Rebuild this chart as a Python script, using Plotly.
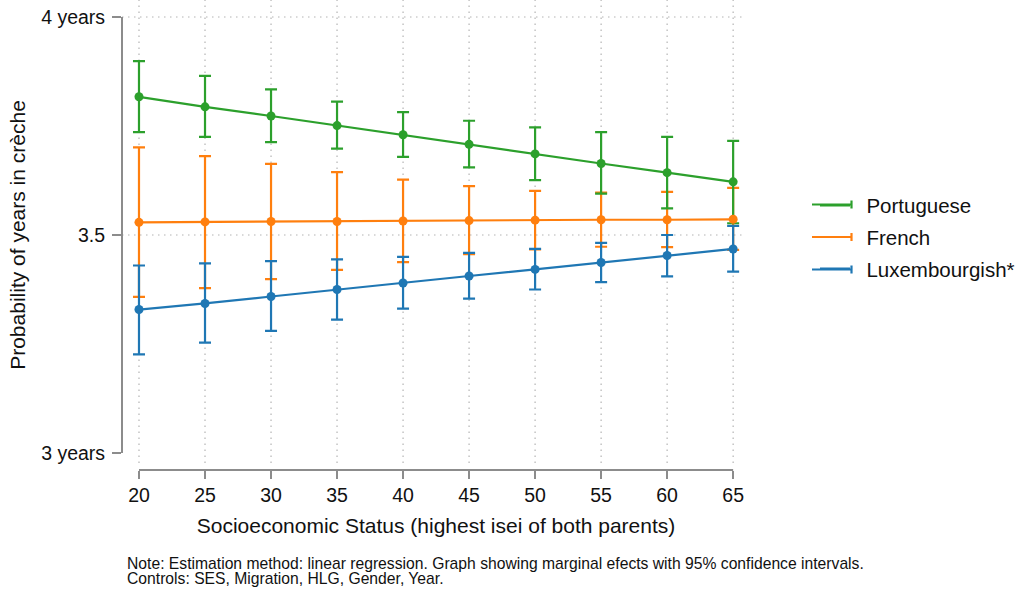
import plotly.graph_objects as go

# ---- data ----
ses = [20, 25, 30, 35, 40, 45, 50, 55, 60, 65]

port_mean = [3.817, 3.794, 3.773, 3.751, 3.730, 3.708, 3.686, 3.664, 3.643, 3.622]
port_lo   = [3.736, 3.725, 3.713, 3.698, 3.679, 3.655, 3.626, 3.595, 3.561, 3.527]
port_hi   = [3.899, 3.865, 3.834, 3.806, 3.782, 3.762, 3.747, 3.736, 3.725, 3.716]

fr_mean = [3.529, 3.530, 3.531, 3.531, 3.532, 3.533, 3.534, 3.535, 3.535, 3.536]
fr_lo   = [3.358, 3.378, 3.399, 3.420, 3.438, 3.456, 3.467, 3.473, 3.472, 3.466]
fr_hi   = [3.701, 3.681, 3.663, 3.644, 3.627, 3.612, 3.601, 3.597, 3.599, 3.608]

lux_mean = [3.329, 3.343, 3.359, 3.375, 3.390, 3.406, 3.421, 3.437, 3.453, 3.468]
lux_lo   = [3.226, 3.253, 3.280, 3.306, 3.331, 3.354, 3.375, 3.392, 3.405, 3.416]
lux_hi   = [3.430, 3.435, 3.440, 3.444, 3.450, 3.459, 3.468, 3.482, 3.500, 3.521]

y_tickvals = [3, 3.5, 4]
y_ticktext = ["3 years", "3.5", "4 years"]
x_tickvals = ses

note_lines = [
    "Note: Estimation method: linear regression. Graph showing marginal efects with 95% confidence intervals.",
    "Controls: SES, Migration, HLG, Gender, Year.",
]

GREEN = "#2ca02c"
ORANGE = "#ff7f0e"
BLUE = "#1f77b4"
FONT = "Liberation Sans, Arial, Helvetica, sans-serif"

series = [
    ("Portuguese", GREEN, port_mean, port_lo, port_hi),
    ("French", ORANGE, fr_mean, fr_lo, fr_hi),
    ("Luxembourgish*", BLUE, lux_mean, lux_lo, lux_hi),
]

# plot-area geometry in pixels (used to place paper-referenced decorations)
PL, PR, PT, PB = 122, 750, 0, 470
def px_x(px):
    return (px - PL) / (PR - PL)
def px_y(py):
    return (PB - py) / (PB - PT)

fig = go.Figure()

# confidence-interval caps (orange lowest, then blue, then green)
for name, col, m, lo, hi in [series[1], series[2], series[0]]:
    fig.add_trace(go.Scatter(
        x=ses, y=m, mode="markers",
        marker=dict(color="rgba(0,0,0,0)", size=1),
        error_y=dict(type="data", symmetric=False,
                     array=[h - v for h, v in zip(hi, m)],
                     arrayminus=[v - l for v, l in zip(m, lo)],
                     color=col, thickness=2.2, width=6),
        showlegend=False, hoverinfo="skip",
    ))

# connected point estimates
for name, col, m, lo, hi in [series[2], series[0], series[1]]:
    fig.add_trace(go.Scatter(
        x=ses, y=m, mode="lines+markers",
        line=dict(color=col, width=2.2),
        marker=dict(color=col, size=9),
        showlegend=False, name=name,
    ))

# legend entries
for name, col, m, lo, hi in series:
    fig.add_trace(go.Scatter(
        x=[None], y=[None], mode="lines", name="\u00a0\u00a0" + name,
        line=dict(color=col, width=2.2), legendgroup=name,
    ))

GRID = dict(color="#b4b4b4", width=1.2, dash="1.5px,4.5px")
shapes = []
# vertical grid lines
for xv in x_tickvals:
    shapes.append(dict(type="line", xref="x", yref="y", x0=xv, x1=xv,
                       y0=2.977, y1=4.039, line=GRID, layer="below"))
# horizontal grid lines
for yv in [3.5, 4]:
    shapes.append(dict(type="line", xref="paper", yref="y", x0=0, x1=0.99,
                       y0=yv, y1=yv, line=GRID, layer="below"))
# axis lines
AX = dict(color="#8c8c8c", width=2)
shapes.append(dict(type="line", xref="paper", yref="y", x0=0, x1=0,
                   y0=3, y1=4, line=AX))
shapes.append(dict(type="line", xref="x", yref="paper", x0=20, x1=65,
                   y0=0, y1=0, line=AX))
# legend key: longer line with a cap at the right end
for (name, col, *_), ry in zip(series, [204.5, 237, 269.5]):
    shapes.append(dict(type="line", xref="paper", yref="paper",
                       x0=px_x(812), x1=px_x(852), y0=px_y(ry), y1=px_y(ry),
                       line=dict(color=col, width=2.2)))
    shapes.append(dict(type="line", xref="paper", yref="paper",
                       x0=px_x(851.5), x1=px_x(851.5), y0=px_y(ry - 4), y1=px_y(ry + 4),
                       line=dict(color=col, width=2.2)))

annotations = []
for txt, ypx in zip(note_lines, [563, 578]):
    annotations.append(dict(
        text=txt, xref="paper", yref="paper",
        x=px_x(125), y=px_y(ypx),
        xanchor="left", yanchor="middle", align="left", showarrow=False,
        font=dict(size=15.7, family=FONT, color="#111111"),
    ))

fig.update_layout(
    width=1020, height=592,
    margin=dict(l=PL, r=1020 - PR, t=PT, b=592 - PB, autoexpand=False),
    paper_bgcolor="white", plot_bgcolor="white",
    font=dict(family=FONT, size=20, color="#111111"),
    shapes=shapes,
    annotations=annotations,
    xaxis=dict(range=[18.713, 66.277], tickvals=x_tickvals,
               showgrid=False, zeroline=False, showline=False, automargin=False,
               ticks="outside", ticklen=8, tickwidth=2, tickcolor="#8c8c8c",
               tickfont=dict(size=19.5),
               title=dict(text="Socioeconomic Status (highest isei of both parents)",
                          font=dict(size=21), standoff=12)),
    yaxis=dict(range=[2.961, 4.039], tickvals=y_tickvals, ticktext=y_ticktext,
               showgrid=False, zeroline=False, showline=False, automargin=False,
               ticks="outside", ticklen=9, tickwidth=2, tickcolor="#8c8c8c",
               tickfont=dict(size=19.5), ticklabelstandoff=3,
               title=dict(text="Probability of years in crèche",
                          font=dict(size=21), standoff=9)),
    legend=dict(x=px_x(815), y=px_y(237), xanchor="left", yanchor="middle",
                font=dict(size=20.5), tracegroupgap=2,
                bgcolor="rgba(0,0,0,0)"),
)

fig.write_html("out.html",
               config={"displayModeBar": False},
               post_script="document.body.style.margin='0';document.body.style.overflow='hidden';")
